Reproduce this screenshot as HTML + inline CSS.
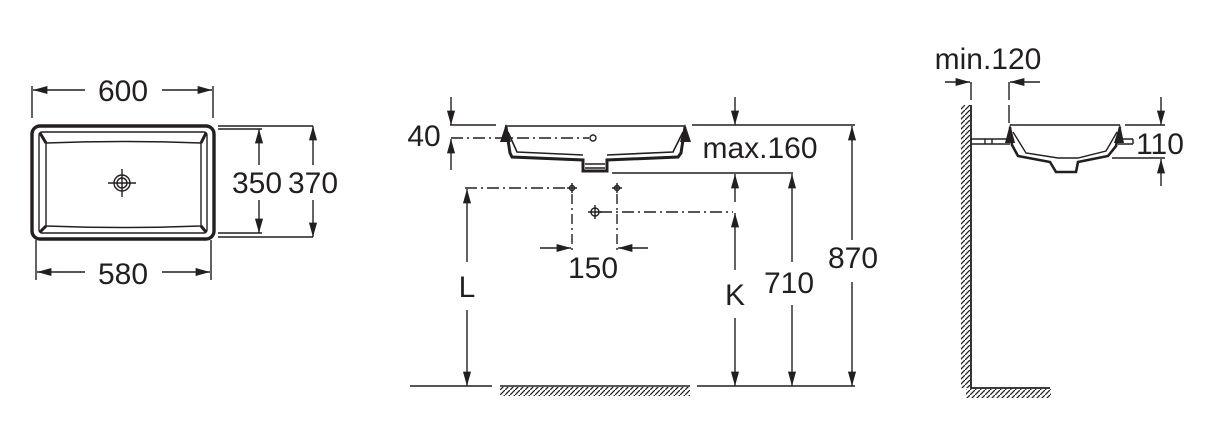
<!DOCTYPE html>
<html><head><meta charset="utf-8"><style>
html,body{margin:0;padding:0;background:#fff}
svg text{font-family:"Liberation Sans",sans-serif;fill:#231f20}
</style></head><body>
<svg width="1217" height="434" viewBox="0 0 1217 434" xmlns="http://www.w3.org/2000/svg">
<defs>
<marker id="a" viewBox="0 0 16 10" refX="16" refY="5" markerWidth="16" markerHeight="9" markerUnits="userSpaceOnUse" orient="auto"><path d="M0,0.5 L16,5 L0,9.5 Z" fill="#231f20"/></marker>
<pattern id="h" width="5" height="5" patternUnits="userSpaceOnUse"><path d="M-1,6 L6,-1" stroke="#222" stroke-width="1.3"/></pattern>
</defs>
<g stroke="#231f20" fill="none" stroke-width="1.4">
<!-- LEFT VIEW -->
<rect x="32" y="126" width="182" height="113" rx="8" stroke-width="3.4"/>
<rect x="39" y="132" width="168" height="101" rx="3"/>
<path d="M46,143 Q123,140 201,143 L201,226 Q123,229 46,226 Z"/>
<path d="M40,133 L46,143 M206,133 L201,143 M40,232 L46,226 M206,232 L201,226" stroke-width="3"/>
<circle cx="122" cy="183" r="8"/><circle cx="122" cy="183" r="5"/>
<path d="M108,183 H136 M122,169 V197"/>
<path d="M32,86 V118 M213,86 V118 M36,240 V280 M211,240 V280"/>
<path d="M85,90 H33" marker-end="url(#a)"/><path d="M162,90 H212" marker-end="url(#a)"/>
<path d="M85,272 H37" marker-end="url(#a)"/><path d="M162,272 H210" marker-end="url(#a)"/>
<path d="M218,126 H313 M218,129 H262 M218,233 H262 M218,237 H313"/>
<path d="M259,165 V129" marker-end="url(#a)"/><path d="M259,200 V233" marker-end="url(#a)"/>
<path d="M313,165 V126" marker-end="url(#a)"/><path d="M313,200 V237" marker-end="url(#a)"/>
<!-- MIDDLE VIEW -->
<path d="M450,125 H496 M505,126 H685 M692,125 H855"/>
<path d="M506,127 L510,153 L512,157 L583,160 L583,171 L607,171 L607,160 L678,157 L681,153 L685,127" stroke-width="3"/>
<path d="M506,124 L500,142 L511,142 Z M685,124 L691,142 L680,142 Z" fill="#231f20" stroke="none"/>
<path d="M508,132 L517,152 L583,155 M683,132 L673,152 L607,155" stroke-width="1.6"/>
<path d="M585,164 H605 M585,168 H605"/>
<path d="M451,138 H589" stroke-dasharray="12,4,2,4"/><circle cx="593" cy="138" r="3"/>
<path d="M451,97 V125" marker-end="url(#a)"/><path d="M451,170 V139" marker-end="url(#a)"/>
<path d="M735,97 V125" marker-end="url(#a)"/>
<path d="M612,173 H793"/>
<path d="M852,240 V126" marker-end="url(#a)"/><path d="M852,282 V386" marker-end="url(#a)"/>
<path d="M792,262 V174" marker-end="url(#a)"/><path d="M792,305 V386" marker-end="url(#a)"/>
<path d="M735,202 V174" marker-end="url(#a)"/><path d="M735,270 V213" marker-end="url(#a)"/><path d="M735,318 V386" marker-end="url(#a)"/>
<path d="M467,262 V189" marker-end="url(#a)"/><path d="M467,310 V386" marker-end="url(#a)"/>
<path d="M465,188 H568" stroke-dasharray="12,4,2,4"/>
<path d="M600,212 H733" stroke-dasharray="12,4,2,4"/>
<path d="M572,194 V250 M617,194 V250" stroke-dasharray="10,4,2,4"/>
<circle cx="572" cy="188" r="2.5"/><path d="M567,188 H577 M572,183 V193"/>
<circle cx="617" cy="188" r="2.5"/><path d="M612,188 H622 M617,183 V193"/>
<circle cx="595" cy="212" r="4"/><path d="M588,212 H602 M595,205 V219"/>
<path d="M540,248 H571" marker-end="url(#a)"/><path d="M648,248 H618" marker-end="url(#a)"/>
<path d="M410,386 H492 M500,386 H690 M697,386 H855"/>
<!-- RIGHT VIEW -->
<path d="M971,105 V388 H1050" stroke-width="1.8"/>
<path d="M971,82 V100"/>
<path d="M1009,82 V100 M1009,105 V126" stroke-dasharray="18,4"/>
<path d="M945,82 H970" marker-end="url(#a)"/><path d="M1040,82 H1010" marker-end="url(#a)"/>
<path d="M1010,125 H1120"/>
<path d="M971,139 H1010 M971,144 H1010 M1118,139 H1133 M1118,144 H1133 M1133,139 V144 M985,139 V144 M992,139 V144"/>
<path d="M1010,127 L1012,145 L1018,156 L1050,162 L1056,172 L1076,172 L1078,162 L1108,156 L1116,146 L1120,127" stroke-width="2.6"/>
<path d="M1010,124 L1005,143 L1015,143 Z M1120,124 L1124,143 L1114,143 Z" fill="#231f20" stroke="none"/>
<path d="M1013,132 L1026,153 L1058,158 L1078,158 L1106,151 L1117,132"/>
<path d="M1125,125 H1165 M1112,158 H1165"/>
<path d="M1161,97 V125" marker-end="url(#a)"/><path d="M1161,186 V159" marker-end="url(#a)"/>
</g>
<rect x="961" y="105" width="10" height="283" fill="url(#h)"/>
<rect x="966" y="389" width="85" height="9" fill="url(#h)"/>
<rect x="500" y="387" width="190" height="9" fill="url(#h)"/>
<g font-size="30">
<text x="123" y="101" text-anchor="middle">600</text>
<text x="123" y="284" text-anchor="middle">580</text>
<text x="257" y="193" text-anchor="middle">350</text>
<text x="313" y="193" text-anchor="middle">370</text>
<text x="424" y="146" text-anchor="middle">40</text>
<text x="760" y="158" text-anchor="middle">max.160</text>
<text x="593" y="278" text-anchor="middle">150</text>
<text x="467" y="297" text-anchor="middle">L</text>
<text x="735" y="305" text-anchor="middle">K</text>
<text x="789" y="293" text-anchor="middle">710</text>
<text x="853" y="268" text-anchor="middle">870</text>
<text x="988" y="69" text-anchor="middle">min.120</text>
<text x="1160" y="154" text-anchor="middle">110</text>
</g>
</svg>
</body></html>
